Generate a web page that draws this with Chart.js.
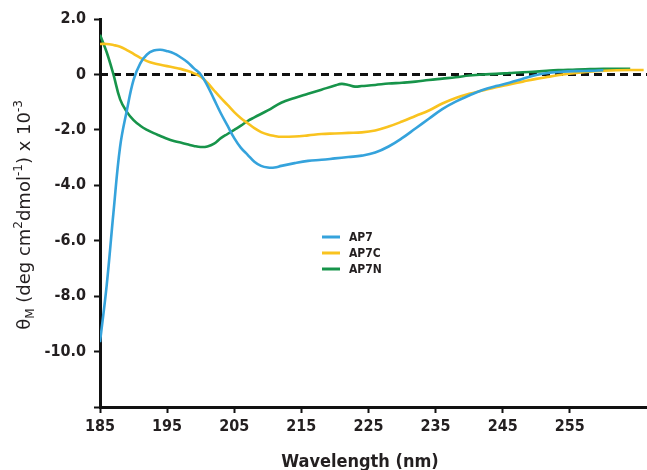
<!DOCTYPE html>
<html>
<head>
<meta charset="utf-8">
<script src="https://cdn.jsdelivr.net/npm/chart.js@4.4.1/dist/chart.umd.min.js"></script>
<style>
  html, body { margin: 0; padding: 0; background: #fff; }
  canvas { display: block; }
</style>
</head>
<body>
<canvas id="cd" width="647" height="470"></canvas>
<script>
// CD spectra, values x 10^-3
const ap7Wl = [185,186,187,188,189,190,191,192,193,194,195,196,197,198,199,200,201,202,203,204,205,206,207,208,209,210,211,212,214,216,218,220,222,224,226,228,230,232,234,236,238,240,242,244,246,248,250,252,254,256,258,260];
const ap7 = [-9.66,-7.6,-5.0,-2.6,-1.3,-0.2,0.4,0.72,0.86,0.89,0.84,0.76,0.62,0.45,0.22,0.0,-0.4,-0.9,-1.4,-1.85,-2.3,-2.65,-2.9,-3.15,-3.3,-3.36,-3.36,-3.3,-3.2,-3.12,-3.08,-3.03,-2.98,-2.93,-2.82,-2.6,-2.3,-1.95,-1.6,-1.25,-0.98,-0.76,-0.56,-0.42,-0.3,-0.16,-0.02,0.06,0.1,0.12,0.13,0.15];

const ap7cWl = [185,186,187,188,189,190,191,192,193,194,195,196,197,198,199,200,201,202,203,204,205,206,207,208,209,210,211,212,214,216,218,220,222,224,226,228,230,232,234,236,238,240,242,244,246,248,250,252,254,256,258,260,262,264,266];
const ap7c = [1.1,1.1,1.06,1.0,0.88,0.74,0.6,0.48,0.4,0.35,0.3,0.25,0.2,0.13,0.04,-0.08,-0.3,-0.58,-0.85,-1.1,-1.36,-1.58,-1.76,-1.94,-2.08,-2.17,-2.22,-2.25,-2.24,-2.2,-2.15,-2.13,-2.11,-2.09,-2.02,-1.88,-1.7,-1.5,-1.3,-1.05,-0.85,-0.7,-0.58,-0.46,-0.36,-0.26,-0.16,-0.08,0.0,0.05,0.1,0.13,0.15,0.16,0.16];

const ap7nWl = [185,186,187,188,189,190,191,192,193,194,195,196,197,198,199,200,201,202,203,204,205,206,207,208,210,212,214,216,218,220,221,222,223,224,226,228,230,232,234,236,238,240,242,244,246,248,250,252,254,256,258,260,262,264];
const ap7n = [1.43,0.8,0.0,-0.9,-1.35,-1.65,-1.85,-2.0,-2.12,-2.22,-2.32,-2.4,-2.46,-2.52,-2.58,-2.62,-2.6,-2.5,-2.3,-2.15,-2.0,-1.85,-1.68,-1.55,-1.3,-1.02,-0.85,-0.7,-0.55,-0.4,-0.34,-0.38,-0.44,-0.42,-0.38,-0.33,-0.3,-0.26,-0.2,-0.15,-0.1,-0.04,0.0,0.02,0.05,0.08,0.1,0.14,0.16,0.18,0.19,0.2,0.2,0.2];

const xTicks = [185,195,205,215,225,235,245,255];
const yTicks = [2,0,-2,-4,-6,-8,-10,-12];

const FONT = '"Liberation Sans Narrow", "DejaVu Sans Condensed", Roboto, sans-serif';
const WIDE = '"DejaVu Sans", sans-serif';
const INK = '#231f20';

function pts(xs, ys) { return xs.map((x, i) => ({ x: x, y: ys[i] })); }

const zeroLine = {
  id: 'zeroLine',
  beforeDatasetsDraw(chart) {
    const { ctx, chartArea, scales } = chart;
    const y = scales.y.getPixelForValue(0);
    ctx.save();
    ctx.strokeStyle = '#111';
    ctx.lineWidth = 3;
    ctx.setLineDash([8, 5]);
    ctx.beginPath();
    ctx.moveTo(chartArea.left, y);
    ctx.lineTo(chartArea.right, y);
    ctx.stroke();
    ctx.restore();
  }
};

// hand drawn legend and axis titles (y title needs sub/superscripts)
const extras = {
  id: 'extras',
  afterDraw(chart) {
    const { ctx, chartArea } = chart;
    ctx.save();
    // legend
    const lx = chartArea.left + 222, ly = chartArea.top + 218;
    chart.data.datasets.forEach((ds, i) => {
      const y = ly + i * 16;
      ctx.strokeStyle = ds.borderColor;
      ctx.lineWidth = 3;
      ctx.beginPath();
      ctx.moveTo(lx, y);
      ctx.lineTo(lx + 18, y);
      ctx.stroke();
      ctx.fillStyle = INK;
      ctx.font = 'bold 12px ' + FONT;
      ctx.textBaseline = 'middle';
      ctx.fillText(ds.label, lx + 27, y + 1);
    });

    // y axis title
    const parts = [
      ['\u03b8', 18, 0], ['M', 12, 4], [' (deg cm', 18, 0], ['2', 12, -8],
      ['dmol', 18, 0], ['-1', 12, -8], [') x 10', 18, 0], ['-3', 12, -8]
    ];
    let w = 0;
    parts.forEach(p => { ctx.font = p[1] + 'px ' + WIDE; w += ctx.measureText(p[0]).width; });
    ctx.translate(30, 215);
    ctx.rotate(-Math.PI / 2);
    ctx.fillStyle = INK;
    ctx.textBaseline = 'alphabetic';
    let x = -w / 2;
    parts.forEach(p => {
      ctx.font = p[1] + 'px ' + WIDE;
      ctx.fillText(p[0], x, p[2]);
      x += ctx.measureText(p[0]).width;
    });
    ctx.restore();

    // x axis title
    ctx.save();
    ctx.fillStyle = INK;
    ctx.font = 'bold 18px ' + FONT;
    ctx.textAlign = 'center';
    ctx.textBaseline = 'alphabetic';
    ctx.fillText('Wavelength (nm)', 360, 467);
    ctx.restore();
  }
};

const lineStyle = { borderWidth: 2.6, pointRadius: 0, tension: 0.4, fill: false };

new Chart(document.getElementById('cd').getContext('2d'), {
  type: 'line',
  data: {
    datasets: [
      Object.assign({ label: 'AP7', data: pts(ap7Wl, ap7), borderColor: '#35a3dc' }, lineStyle),
      Object.assign({ label: 'AP7C', data: pts(ap7cWl, ap7c), borderColor: '#f9c31f' }, lineStyle),
      Object.assign({ label: 'AP7N', data: pts(ap7nWl, ap7n), borderColor: '#17944a' }, lineStyle)
    ]
  },
  options: {
    responsive: false,
    animation: false,
    layout: { padding: { top: 19, right: 0, left: 0, bottom: 0 } },
    plugins: { legend: { display: false }, tooltip: { enabled: false } },
    scales: {
      x: {
        type: 'linear',
        min: 185,
        max: 266.5,
        afterBuildTicks: s => { s.ticks = xTicks.map(v => ({ value: v })); },
        afterFit: s => { s.height = 63; },
        border: { display: true, color: '#111', width: 3 },
        grid: { drawOnChartArea: false, drawTicks: true, tickLength: 6, tickWidth: 2, tickColor: '#111' },
        ticks: { color: INK, padding: 4, maxRotation: 0, font: { family: FONT, size: 16, weight: 'bold' } }
      },
      y: {
        min: -12,
        max: 2,
        afterBuildTicks: s => { s.ticks = yTicks.map(v => ({ value: v })); },
        afterFit: s => { s.width = 100; },
        border: { display: true, color: '#111', width: 3 },
        grid: { drawOnChartArea: false, drawTicks: true, tickLength: 6, tickWidth: 2, tickColor: '#111' },
        ticks: {
          color: INK, padding: 8,
          font: { family: FONT, size: 16, weight: 'bold' },
          callback: v => v === -12 ? '' : (v === 0 ? '0' : v.toFixed(1))
        }
      }
    }
  },
  plugins: [zeroLine, extras]
});
</script>
</body>
</html>
